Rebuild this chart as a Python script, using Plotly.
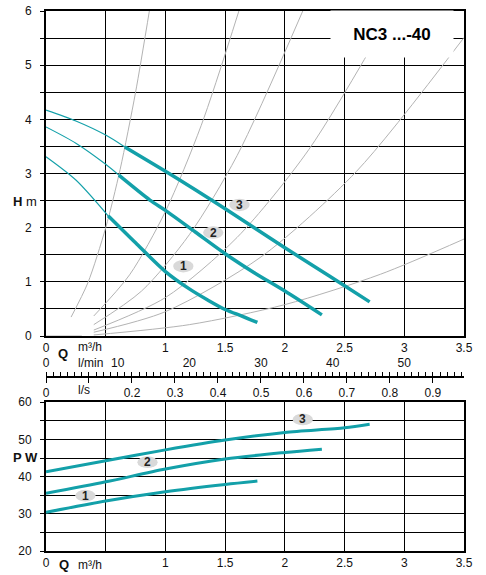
import plotly.graph_objects as go

# pump curves: head H (m) against flow Q (m3/h), speed 1..3
q1 = [0, 0.25, 0.52, 0.75, 1.0, 1.2, 1.35, 1.5, 1.65, 1.77]
h1 = [3.31, 2.88, 2.22, 1.72, 1.19, 0.87, 0.67, 0.49, 0.36, 0.25]
q2 = [0, 0.25, 0.5, 0.61, 0.87, 1.0, 1.25, 1.5, 1.75, 2.0, 2.31]
h2 = [3.86, 3.56, 3.17, 2.97, 2.51, 2.32, 1.92, 1.52, 1.16, 0.83, 0.39]
q3 = [0, 0.25, 0.5, 0.66, 1.0, 1.25, 1.5, 1.75, 2.0, 2.25, 2.5, 2.71]
h3 = [4.17, 3.97, 3.71, 3.49, 3.04, 2.70, 2.35, 1.99, 1.63, 1.28, 0.93, 0.63]
# each curve is thin up to this flow and thick after it
q_thick = [0.52, 0.61, 0.66]

# power input P (W) against Q (m3/h)
pq1 = [0, 0.5, 1.0, 1.5, 1.77]
p1 = [30.4, 33.45, 35.95, 37.9, 38.8]
pq2 = [0, 0.5, 1.0, 1.5, 2.0, 2.31]
p2 = [35.5, 38.6, 42.05, 44.75, 46.5, 47.4]
pq3 = [0, 0.5, 1.0, 1.5, 2.0, 2.5, 2.71]
p3 = [41.3, 44.3, 47.2, 49.85, 51.9, 53.15, 54.1]

# grey system curves
sys_q = [[0, 0.3],
         [0.21, 0.35, 0.5, 0.62, 0.75, 0.87],
         [0.4, 0.7, 1.0, 1.3, 1.615],
         [0.4, 0.8, 1.2, 1.6, 2.15],
         [0.4, 1.0, 1.6, 2.2, 2.9],
         [0.4, 1.0, 1.8, 2.6, 3.5],
         [0.4, 1.2, 2.0, 2.8, 3.5]]
sys_h = [[0, 0],
         [0.35, 0.98, 2.0, 3.07, 4.5, 6.06],
         [0.37, 1.13, 2.3, 3.89, 6.0],
         [0.21, 0.83, 1.87, 3.33, 6.0],
         [0.11, 0.71, 1.82, 3.44, 6.0],
         [0.07, 0.45, 1.46, 3.04, 5.51],
         [0.02, 0.21, 0.58, 1.14, 1.79]]

# tick values
q_ticks = [0, 0.5, 1, 1.5, 2, 2.5, 3, 3.5]
h_ticks = [0, 0.5, 1, 1.5, 2, 2.5, 3, 3.5, 4, 4.5, 5, 5.5, 6]
p_ticks = [20, 25, 30, 35, 40, 45, 50, 55, 60]
lmin_ticks = [0, 10, 20, 30, 40, 50]
ls_ticks = [0, 0.1, 0.2, 0.3, 0.4, 0.5, 0.6, 0.7, 0.8, 0.9]

# label positions of the speed numbers
h_labels = [(1.15, 1.29), (1.40, 1.91), (1.62, 2.42)]
p_labels = [(0.33, 34.9), (0.85, 43.9), (2.15, 55.4)]

TEAL = '#13a0a9'
GREY = '#b3b3b3'
FONT = 'Arial, Liberation Sans, sans-serif'


def tick_text(vals, keep):
    # blank out the labels that the original leaves empty
    out = []
    for v in vals:
        out.append(('%g' % v) if keep(v) else '')
    return out


fig = go.Figure()

for xs, ys in zip(sys_q, sys_h):
    fig.add_trace(go.Scatter(x=xs, y=ys, mode='lines', xaxis='x', yaxis='y',
                             line=dict(color=GREY, width=1, shape='spline', smoothing=0.8),
                             hoverinfo='skip', showlegend=False))

for qs, hs, qt in zip([q1, q2, q3], [h1, h2, h3], q_thick):
    thin_q = [q for q in qs if q <= qt]
    thin_h = [h for q, h in zip(qs, hs) if q <= qt]
    thick_q = [q for q in qs if q >= qt]
    thick_h = [h for q, h in zip(qs, hs) if q >= qt]
    fig.add_trace(go.Scatter(x=thin_q, y=thin_h, mode='lines', xaxis='x', yaxis='y',
                             line=dict(color=TEAL, width=1.1, shape='spline', smoothing=0.8),
                             showlegend=False))
    fig.add_trace(go.Scatter(x=thick_q, y=thick_h, mode='lines', xaxis='x', yaxis='y',
                             line=dict(color=TEAL, width=3.5, shape='spline', smoothing=0.8),
                             showlegend=False))

for qs, ps in zip([pq1, pq2, pq3], [p1, p2, p3]):
    fig.add_trace(go.Scatter(x=qs, y=ps, mode='lines', xaxis='x2', yaxis='y2',
                             line=dict(color=TEAL, width=3, shape='spline', smoothing=0.8),
                             showlegend=False))

# empty traces so the l/min and l/s scales get drawn
fig.add_trace(go.Scatter(x=[], y=[], xaxis='x3', yaxis='y', showlegend=False))
fig.add_trace(go.Scatter(x=[], y=[], xaxis='x4', yaxis='y', showlegend=False))

# numbered grey ovals
shapes = []
annotations = []
for i, (qx, hy) in enumerate(h_labels):
    shapes.append(dict(type='circle', xref='x', yref='y', x0=qx - 0.085, x1=qx + 0.085,
                       y0=hy - 0.115, y1=hy + 0.115, fillcolor='#d9d9d9',
                       line=dict(width=0), layer='above'))
    annotations.append(dict(x=qx, y=hy, xref='x', yref='y', text='<b>%d</b>' % (i + 1),
                            showarrow=False, font=dict(size=12, color='#222', family=FONT)))
for i, (qx, py) in enumerate(p_labels):
    shapes.append(dict(type='circle', xref='x2', yref='y2', x0=qx - 0.085, x1=qx + 0.085,
                       y0=py - 1.6, y1=py + 1.6, fillcolor='#d9d9d9',
                       line=dict(width=0), layer='above'))
    annotations.append(dict(x=qx, y=py, xref='x2', yref='y2', text='<b>%d</b>' % (i + 1),
                            showarrow=False, font=dict(size=12, color='#222', family=FONT)))

# model name box
annotations.append(dict(x=2.9, y=5.57, xref='x', yref='y', text='<b>NC3 ...-40</b>',
                        showarrow=False, bgcolor='white', width=120, height=44,
                        font=dict(size=17, color='black', family=FONT)))


def paper_text(px, py, text, size=12, xanchor='center'):
    # px, py are positions in picture pixels
    annotations.append(dict(x=(px - 46) / 418, y=(551 - py) / 540, xref='paper', yref='paper',
                            text=text, showarrow=False, xanchor=xanchor, yanchor='middle',
                            font=dict(size=size, color='#111', family=FONT)))


paper_text(25, 201, '<b>H</b> m', 13)
paper_text(25, 458, '<b>P W</b>', 13)
paper_text(63, 353, '<b>Q</b>', 13)
paper_text(76, 347, 'm³/h', 12, 'left')
paper_text(76, 363, 'l/min', 12, 'left')
paper_text(76, 390, 'l/s', 12, 'left')
paper_text(64, 564, '<b>Q</b>', 13)
paper_text(76, 565, 'm³/h', 12, 'left')

frame = dict(showline=True, linecolor='black', linewidth=2, mirror=True, automargin=False,
             showgrid=True, gridcolor='black', gridwidth=1, zeroline=False,
             ticklabeloverflow='allow',
             tickfont=dict(size=12, color='#111', family=FONT))
scale = dict(overlaying='x', anchor='free', position=0.3228, automargin=False,
             showgrid=False, zeroline=False, tickcolor='black', ticklabeloverflow='allow',
             tickfont=dict(size=12, color='#111', family=FONT))

fig.update_layout(
    width=486, height=575,
    margin=dict(l=46, r=22, t=11, b=24, autoexpand=False),
    plot_bgcolor='white', paper_bgcolor='white',
    showlegend=False,
    xaxis=dict(frame, domain=[0, 1], anchor='y', range=[0, 3.5],
               tickvals=q_ticks, ticktext=tick_text(q_ticks, lambda v: v != 0.5), ticks=''),
    yaxis=dict(frame, domain=[0.3981, 1], anchor='x', range=[0, 6],
               tickvals=h_ticks, ticktext=tick_text(h_ticks, lambda v: v == int(v)),
               ticks='outside', ticklen=4, tickcolor='black', ticklabelstandoff=6),
    xaxis2=dict(frame, domain=[0, 1], anchor='y2', range=[0, 3.5],
                tickvals=q_ticks, ticktext=tick_text(q_ticks, lambda v: v != 0.5), ticks=''),
    yaxis2=dict(frame, domain=[0, 0.2754], anchor='x2', range=[20, 60],
                tickvals=p_ticks, ticktext=tick_text(p_ticks, lambda v: v % 10 == 0),
                ticks='outside', ticklen=4, tickcolor='black', ticklabelstandoff=6),
    # l/min scale above the line, l/s below, both on the same flow range
    xaxis3=dict(scale, side='top', range=[0, 3.5 / 0.06],
                showline=True, linecolor='black', linewidth=2,
                tickvals=lmin_ticks, ticks='outside', ticklen=4,
                minor=dict(dtick=1, ticks='outside', ticklen=4, tickcolor='black', showgrid=False)),
    xaxis4=dict(scale, side='bottom', range=[0, 3.5 / 3.6], showline=False,
                tickvals=ls_ticks, ticktext=tick_text(ls_ticks, lambda v: v != 0.1),
                ticks='outside', ticklen=5),
    shapes=shapes,
    annotations=annotations,
)

# drop the page's default body margin so the figure sits at the window corner
fig.write_html("out.html", config={'displayModeBar': False},
               post_script="document.body.style.margin = '0px';")
